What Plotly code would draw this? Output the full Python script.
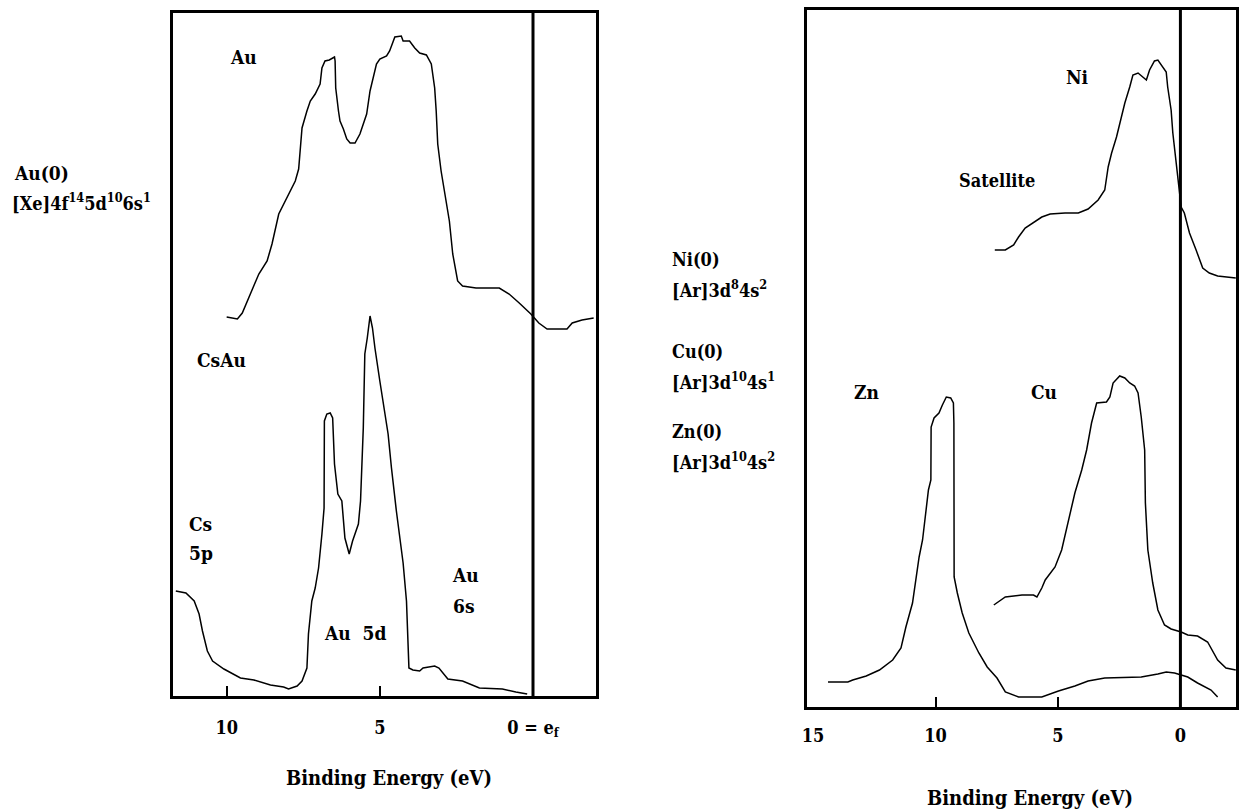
import plotly.graph_objects as go

# ---------------- Au / CsAu valence-band spectra (binding energy in eV, intensity in arb. units)
au_be = [10.00, 9.65, 9.49, 9.22, 8.95, 8.68, 8.52, 8.30, 8.03, 7.76, 7.65, 7.60, 7.54, 7.38, 7.27,
         7.11, 6.95, 6.89, 6.79, 6.65, 6.48, 6.46, 6.44, 6.35, 6.30, 6.19, 6.08, 5.97, 5.81, 5.65,
         5.54, 5.43, 5.32, 5.22, 5.11, 5.00, 4.78, 4.68, 4.57, 4.51, 4.30, 4.24, 4.03, 3.86, 3.70,
         3.48, 3.32, 3.21, 3.16, 3.11, 3.00, 2.89, 2.73, 2.62, 2.46, 2.30, 1.86, 1.10, 0.78, 0.45,
         0.07, -0.19, -0.46, -1.11, -1.28, -1.60, -1.98]
au_int = [379, 377, 383, 402, 422, 435, 452, 482, 498, 515, 527, 548, 568, 585, 595,
          602, 612, 628, 635, 636, 639, 635, 608, 585, 575, 567, 557, 553, 553, 562,
          572, 582, 605, 618, 632, 637, 640, 645, 653, 659, 660, 655, 655, 648, 643,
          641, 632, 608, 585, 552, 525, 505, 475, 442, 415, 410, 408, 408, 402, 393,
          382, 373, 367, 367, 373, 376, 378]

csau_be = [11.66, 11.33, 11.06, 10.90, 10.79, 10.63, 10.46, 10.09, 9.55, 9.11, 8.57, 8.14, 7.98,
           7.70, 7.54, 7.38, 7.33, 7.22, 7.11, 7.00, 6.89, 6.82, 6.81, 6.73, 6.62, 6.54, 6.48,
           6.37, 6.24, 6.14, 6.00, 5.89, 5.70, 5.63, 5.54, 5.49, 5.41, 5.32, 5.24, 5.16, 5.00,
           4.89, 4.73, 4.62, 4.46, 4.24, 4.13, 4.05, 3.92, 3.70, 3.59, 3.21, 3.07, 2.78, 2.30,
           1.75, 1.00, 0.56, 0.19]
csau_int = [105, 103, 95, 82, 65, 45, 35, 27, 18, 16, 11, 9, 7,
            10, 15, 28, 62, 95, 108, 128, 162, 188, 275, 282, 283, 278, 232,
            202, 195, 158, 142, 155, 172, 195, 268, 342, 358, 380, 368, 348, 315,
            292, 262, 228, 185, 133, 95, 28, 26, 25, 28, 30, 28, 17, 15,
            8, 7, 4, 2]

# ---------------- Ni / Cu / Zn valence-band spectra
ni_be = [7.58, 7.15, 6.81, 6.61, 6.34, 5.93, 5.66, 5.32, 4.71, 4.17, 3.77, 3.36, 3.09, 2.95, 2.81,
         2.61, 2.48, 2.27, 2.07, 1.94, 1.73, 1.60, 1.39, 1.26, 1.06, 0.92, 0.72, 0.58, 0.52, 0.38,
         0.31, 0.22, 0.11, -0.03, -0.16, -0.37, -0.64, -0.91, -1.18, -1.52, -2.26]
ni_int = [457, 457, 462, 470, 479, 486, 490, 493, 494, 494, 498, 507, 517, 540, 554,
          570, 584, 604, 620, 632, 634, 631, 627, 637, 646, 647, 640, 635, 620, 597,
          574, 554, 527, 500, 494, 474, 457, 439, 434, 431, 429]

cu_be = [7.62, 7.15, 6.47, 6.00, 5.86, 5.66, 5.52, 5.12, 4.85, 4.58, 4.31, 4.03, 3.83, 3.63, 3.42,
         3.02, 2.88, 2.75, 2.48, 2.27, 2.07, 1.87, 1.73, 1.60, 1.46, 1.43, 1.33, 1.13, 0.92, 0.65,
         0.38, -0.03, -0.30, -0.70, -1.11, -1.52, -1.86, -2.26]
cu_int = [102, 110, 112, 112, 110, 119, 127, 140, 157, 187, 214, 237, 257, 284, 304,
          305, 310, 324, 331, 329, 324, 321, 314, 290, 257, 204, 157, 124, 97, 82,
          78, 75, 72, 71, 65, 47, 39, 37]

zn_be = [14.39, 13.58, 13.38, 12.83, 12.29, 11.75, 11.41, 11.21, 10.94, 10.80, 10.67, 10.53, 10.43,
         10.29, 10.19, 10.18, 10.06, 9.86, 9.72, 9.56, 9.38, 9.27, 9.25, 9.24, 9.11, 8.91, 8.64,
         8.23, 7.89, 7.49, 7.15, 6.61, 5.66, 4.98, 4.31, 3.77, 3.09, 1.60, 0.92, 0.58, 0.24,
         -0.30, -0.70, -1.25, -1.52]
zn_int = [25, 25, 27, 31, 37, 47, 59, 80, 104, 130, 150, 167, 187,
          217, 227, 280, 289, 294, 302, 310, 309, 304, 284, 130, 114, 94, 74,
          54, 40, 29, 15, 10, 10, 16, 21, 26, 29, 30, 33, 35, 34,
          30, 24, 17, 10]

# ---------------- axis text
left_tickvals = [10, 5, 0]
left_ticktext = ["10", "5", "0 = e<sub>f</sub>"]
right_tickvals = [15, 10, 5, 0]
right_ticktext = ["15", "10", "5", "0"]
x_title = "Binding Energy (eV)"

FONT = "DejaVu Serif Condensed"
W, H = 1239, 812


def px(x):
    return x / W


def py(y):
    return 1 - y / H


fig = go.Figure()
line_style = dict(color="black", width=1.5)
for xs, ys, ax in [(au_be, au_int, 1), (csau_be, csau_int, 1),
                   (ni_be, ni_int, 2), (cu_be, cu_int, 2), (zn_be, zn_int, 2)]:
    fig.add_trace(go.Scatter(
        x=xs, y=ys, mode="lines", line=line_style, showlegend=False,
        xaxis="x" if ax == 1 else "x2", yaxis="y" if ax == 1 else "y2",
        hoverinfo="skip"))

frame = dict(showline=True, linewidth=3, linecolor="black", mirror=True,
             showgrid=False, zeroline=False)

fig.update_layout(
    width=W, height=H,
    margin=dict(l=0, r=0, t=0, b=0),
    paper_bgcolor="white", plot_bgcolor="white",
    font=dict(family=FONT, color="black", size=19),
    xaxis=dict(domain=[px(168), px(593)], range=[11.75, -2.045], anchor="y",
               tickmode="array", tickvals=left_tickvals, ticktext=left_ticktext,
               ticks="", ticklabelstandoff=13,
               tickfont=dict(family=FONT, size=18, weight="bold"),
               minor=dict(tickmode="array", tickvals=[10, 5], ticks="inside",
                          ticklen=10, tickwidth=1.5, tickcolor="black"),
               **frame),
    yaxis=dict(domain=[py(696), py(13)], range=[0, 683], anchor="x",
               showticklabels=False, ticks="", **frame),
    xaxis2=dict(domain=[px(806), px(1237)], range=[15.23, -2.27], anchor="y2",
                tickmode="array", tickvals=right_tickvals, ticktext=right_ticktext,
                ticks="", ticklabelstandoff=10,
                tickfont=dict(family=FONT, size=18, weight="bold"),
                minor=dict(tickmode="array", tickvals=[10, 5], ticks="inside",
                           ticklen=10, tickwidth=1.5, tickcolor="black"),
                **frame),
    yaxis2=dict(domain=[py(707), py(10)], range=[0, 697], anchor="x2",
                showticklabels=False, ticks="", **frame),
)

# Fermi level markers
for xr, yr in [("x", "y domain"), ("x2", "y2 domain")]:
    fig.add_shape(type="line", xref=xr, yref=yr, x0=0, x1=0, y0=0, y1=1,
                  line=dict(color="black", width=3))


def label(text, x, y, xref, yref, size=19, xanchor="center"):
    fig.add_annotation(text=text, x=x, y=y, xref=xref, yref=yref, showarrow=False,
                       xanchor=xanchor, yanchor="middle", borderpad=0,
                       font=dict(family=FONT, size=size, weight="bold"))


# in-panel labels (data coordinates)
label("Au", 9.45, 639, "x", "y")
label("CsAu", 10.16, 336, "x", "y")
label("Cs", 10.84, 172, "x", "y")
label("5p", 10.84, 143, "x", "y")
label("Au  5d", 5.81, 63, "x", "y")
label("Au", 2.21, 121, "x", "y")
label("6s", 2.24, 90, "x", "y")

label("Ni", 4.22, 630, "x2", "y2")
label("Satellite", 7.51, 527, "x2", "y2", size=18)
label("Zn", 12.83, 315, "x2", "y2")
label("Cu", 5.56, 315, "x2", "y2")

# axis titles
label(x_title, px(385), py(778), "paper", "paper", size=20)
label(x_title, px(1030), py(798), "paper", "paper", size=20)

# electron configurations
label("Au(0)", px(7), py(173), "paper", "paper", xanchor="left")
label("[Xe]4f<sup>14</sup>5d<sup>10</sup>6s<sup>1</sup>", px(5), py(202), "paper", "paper",
      xanchor="left", size=18)
configs = [("Ni(0)", 260), ("[Ar]3d<sup>8</sup>4s<sup>2</sup>", 289),
           ("Cu(0)", 351), ("[Ar]3d<sup>10</sup>4s<sup>1</sup>", 381),
           ("Zn(0)", 431), ("[Ar]3d<sup>10</sup>4s<sup>2</sup>", 461)]
for txt, yy in configs:
    label(txt, px(669), py(yy), "paper", "paper", xanchor="left", size=18)

fig.write_html("out.html")
